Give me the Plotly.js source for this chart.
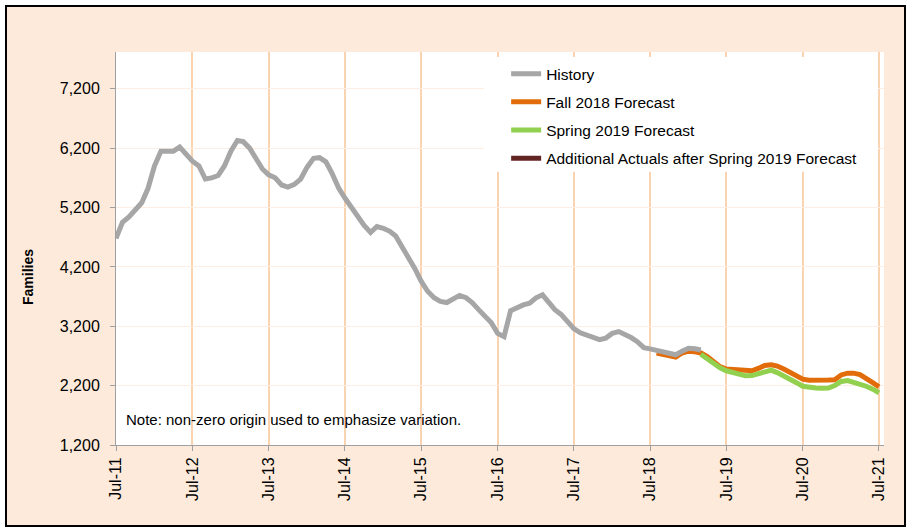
<!DOCTYPE html>
<html>
<head>
<meta charset="utf-8">
<script src="https://cdn.plot.ly/plotly-3.0.1.min.js"></script>
<style>
  html, body { margin: 0; padding: 0; background: #ffffff; }
  #wrap { position: absolute; left: 5px; top: 5px; width: 897px; height: 518px; border: 2px solid #000000; }
  #chart { width: 897px; height: 518px; }
</style>
</head>
<body>
<div id="wrap"><div id="chart"></div></div>
<script>
// Month index 0 = Jul-2011
const startYear = 2011, startMonth = 7;

const historyStart = 0;
const historyValues = [
  4680, 4950, 5040, 5150, 5280, 5520, 5900, 6150, 6160, 6150, 6220, 6100,
  5980, 5900, 5680, 5700, 5740, 5900, 6150, 6330, 6310, 6200, 6040, 5850,
  5750, 5700, 5580, 5545, 5590, 5680, 5880, 6030, 6040, 5970, 5770, 5530,
  5360, 5200, 5040, 4900, 4780, 4880, 4850, 4800, 4720, 4540, 4370, 4170,
  3960, 3790, 3680, 3620, 3600, 3660, 3720, 3680, 3600, 3480, 3360, 3260,
  3080, 3025, 3460, 3520, 3560, 3590, 3680, 3730, 3620, 3480, 3400, 3280,
  3160, 3090, 3050, 3010, 2975, 3000, 3080, 3110, 3070, 3010, 2940, 2840,
  2820, 2800, 2770, 2740, 2720, 2780, 2830, 2820, 2800
];

const fallStart = 85;
const fallValues = [
  2750, 2720, 2700, 2680, 2750, 2780, 2770, 2750, 2690, 2600, 2520,
  2480, 2470, 2465, 2460, 2450, 2490, 2540, 2550, 2530, 2480, 2430, 2360,
  2310, 2290, 2285, 2290, 2295, 2300, 2380, 2410, 2410, 2385, 2330, 2250,
  2180
];

const springStart = 92;
const springValues = [
  2730, 2650, 2580, 2500,
  2450, 2425, 2380, 2365, 2370, 2400, 2450, 2460, 2420, 2370, 2320, 2250,
  2190, 2170, 2160, 2155, 2160, 2200, 2270, 2285, 2260, 2230, 2190, 2140,
  2080
];

// no additional actuals are drawn in the chart (legend entry only)
const actualsStart = 93;
const actualsValues = [null, null, null];

const seriesNames = ["History", "Fall 2018 Forecast", "Spring 2019 Forecast", "Additional Actuals after Spring 2019 Forecast"];
const seriesColors = ["#A6A6A6", "#E36C0A", "#92D050", "#632523"];

const tickYears = [2011, 2012, 2013, 2014, 2015, 2016, 2017, 2018, 2019, 2020, 2021];
const tickLabels = ["Jul-11", "Jul-12", "Jul-13", "Jul-14", "Jul-15", "Jul-16", "Jul-17", "Jul-18", "Jul-19", "Jul-20", "Jul-21"];
const yTickVals = [1200, 2200, 3200, 4200, 5200, 6200, 7200];
const yTickText = ["1,200", "2,200", "3,200", "4,200", "5,200", "6,200", "7,200"];

function monthDate(i) {
  const total = (startMonth - 1) + i;
  const y = startYear + Math.floor(total / 12);
  const m = (total % 12) + 1;
  return y + "-" + String(m).padStart(2, "0") + "-01";
}
function dates(start, n) {
  const out = [];
  for (let k = 0; k < n; k++) out.push(monthDate(start + k));
  return out;
}

const font = "Liberation Sans, Arial, sans-serif";

function trace(idx, start, vals, rank) {
  return {
    x: dates(start, vals.length), y: vals, type: "scatter", mode: "lines",
    name: seriesNames[idx], legendgroup: "g" + idx, legendrank: rank,
    line: { color: seriesColors[idx], width: 5 },
    connectgaps: false,
    hoverinfo: "skip"
  };
}

const data = [
  trace(1, fallStart, fallValues, 2),
  trace(2, springStart, springValues, 3),
  trace(0, historyStart, historyValues, 1),
  trace(3, actualsStart, actualsValues, 4)
];

const layout = {
  width: 897, height: 518,
  margin: { l: 109, r: 20, t: 45, b: 80 },
  paper_bgcolor: "#FDEADA",
  plot_bgcolor: "#FFFFFF",
  font: { family: font, size: 15, color: "#000000" },
  showlegend: true,
  legend: {
    x: 0.508, y: 0.987, xanchor: "left", yanchor: "top",
    bgcolor: "rgba(0,0,0,0)", borderwidth: 0,
    font: { family: font, size: 15.5, color: "#000000" },
    traceorder: "grouped", tracegroupgap: 5,
    itemwidth: 30
  },
  xaxis: {
    type: "date",
    range: ["2011-07-01", "2021-07-25"],
    tickvals: tickYears.map(y => y + "-07-01"),
    ticktext: tickLabels,
    tickangle: -90,
    ticks: "outside", ticklen: 5, tickcolor: "#A0A0A0", tickwidth: 1,
    showline: true, linecolor: "#A0A0A0", linewidth: 1,
    showgrid: true, gridcolor: "#FAD3B0", gridwidth: 2,
    zeroline: false,
    tickfont: { family: font, size: 16, color: "#000000" },
    fixedrange: true
  },
  yaxis: {
    range: [1200, 7820],
    tickvals: yTickVals,
    ticktext: yTickText,
    ticks: "outside", ticklen: 5, tickcolor: "#A0A0A0", tickwidth: 1,
    ticklabelstandoff: 7,
    showline: true, linecolor: "#A0A0A0", linewidth: 1,
    showgrid: true, gridcolor: "#FCEEE2", gridwidth: 1,
    zeroline: false,
    tickfont: { family: font, size: 16, color: "#000000" },
    fixedrange: true
  },
  shapes: [{
    type: "rect", xref: "paper", yref: "paper", layer: "above",
    x0: 0.479, x1: 0.992, y0: 0.695, y1: 0.987,
    fillcolor: "#FFFFFF", line: { width: 0 }
  }],
  annotations: [{
    xref: "paper", yref: "paper", x: 0.011, y: 0.065, xanchor: "left", yanchor: "middle",
    text: "Note: non-zero origin used to emphasize variation.", showarrow: false,
    font: { family: font, size: 15, color: "#000000" }
  }, {
    xref: "paper", yref: "paper", x: -0.1146, y: 0.4275, xanchor: "center", yanchor: "middle",
    textangle: -90, text: "<b>Families</b>", showarrow: false,
    font: { family: font, size: 14, color: "#000000" }
  }]
};

Plotly.newPlot("chart", data, layout, { displayModeBar: false, staticPlot: true });
</script>
</body>
</html>
